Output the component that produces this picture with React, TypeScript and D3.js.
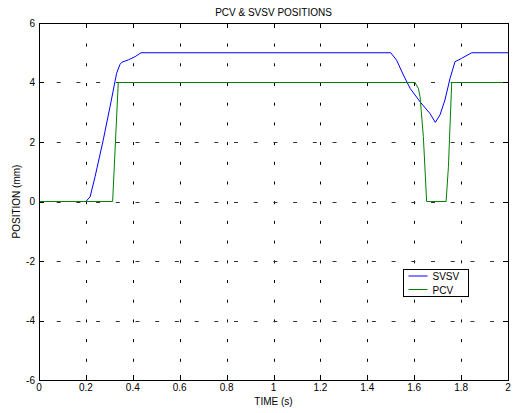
import React, { useEffect, useRef } from 'react';
import * as d3 from 'd3';

// SVSV position (mm)
const svsvTime = [0, 0.2, 0.218, 0.239, 0.274, 0.303, 0.324, 0.331, 0.345, 0.353, 0.381, 0.41, 0.435,
  1.5, 1.525, 1.554, 1.583, 1.625, 1.667, 1.69, 1.71, 1.731, 1.753, 1.774, 1.802, 1.845, 2.0];
const svsvPos = [0, 0, 0.16, 0.83, 2.07, 3.19, 4.03, 4.31, 4.6, 4.68, 4.76, 4.87, 5,
  5, 4.75, 4.25, 3.8, 3.35, 2.96, 2.66, 2.91, 3.41, 4.14, 4.7, 4.81, 5, 5];

// PCV position (mm)
const pcvTime = [0, 0.314, 0.338, 1.603, 1.618, 1.625, 1.639, 1.653, 1.736, 1.746, 1.76, 2.0];
const pcvPos = [0, 0, 4, 4, 3.8, 3.52, 2.18, 0, 0, 1.17, 4, 4];

const xTicks = [0, 0.2, 0.4, 0.6, 0.8, 1, 1.2, 1.4, 1.6, 1.8, 2];
const yTicks = [-6, -4, -2, 0, 2, 4, 6];

const seriesNames = ['SVSV', 'PCV'];
const seriesColors = ['#0000ff', '#008000'];

const App = () => {
  const ref = useRef<SVGSVGElement>(null);

  useEffect(() => {
    const width = 516;
    const height = 413;
    const margin = { top: 23, right: 8, bottom: 33, left: 39 };
    const innerWidth = width - margin.left - margin.right;
    const innerHeight = height - margin.top - margin.bottom;

    const svg = d3.select(ref.current);
    svg.selectAll('*').remove();
    svg.append('rect').attr('width', width).attr('height', height).attr('fill', '#fff');

    const g = svg.append('g').attr('transform', `translate(${margin.left}, ${margin.top})`);

    const xScale = d3.scaleLinear().domain([0, 2]).range([0, innerWidth]);
    const yScale = d3.scaleLinear().domain([-6, 6]).range([innerHeight, 0]);

    const font = 'Liberation Sans, Arial, sans-serif';

    // Grid (dotted)
    g.selectAll('.vgrid')
      .data(xTicks.slice(1, -1))
      .join('line')
      .attr('class', 'vgrid')
      .attr('x1', d => Math.round(xScale(d)) + 0.5)
      .attr('x2', d => Math.round(xScale(d)) + 0.5)
      .attr('y1', innerHeight)
      .attr('y2', 0)
      .attr('stroke', '#000')
      .attr('stroke-dasharray', '3,16.7')
      .attr('stroke-dashoffset', 1.5);

    g.selectAll('.hgrid')
      .data(yTicks.slice(1, -1))
      .join('line')
      .attr('class', 'hgrid')
      .attr('x1', 0)
      .attr('x2', innerWidth)
      .attr('y1', d => Math.round(yScale(d)) + 0.5)
      .attr('y2', d => Math.round(yScale(d)) + 0.5)
      .attr('stroke', '#333')
      .attr('stroke-dasharray', '4,15.7')
      .attr('stroke-dashoffset', 2);

    // Lines
    const lineGen = d3.line<[number, number]>()
      .x(d => xScale(d[0]))
      .y(d => yScale(d[1]));

    const series = [
      svsvTime.map((t, i) => [t, svsvPos[i]] as [number, number]),
      pcvTime.map((t, i) => [t, pcvPos[i]] as [number, number]),
    ];

    g.selectAll('.series')
      .data(series)
      .join('path')
      .attr('class', 'series')
      .attr('d', d => lineGen(d))
      .attr('fill', 'none')
      .attr('stroke', (d, i) => seriesColors[i])
      .attr('stroke-width', 1);

    // Ticks on all four sides, inward
    const tickLen = 5;
    xTicks.forEach(t => {
      const x = Math.round(xScale(t)) + 0.5;
      g.append('line').attr('x1', x).attr('x2', x).attr('y1', innerHeight).attr('y2', innerHeight - tickLen).attr('stroke', '#000');
      g.append('line').attr('x1', x).attr('x2', x).attr('y1', 0).attr('y2', tickLen).attr('stroke', '#000');
    });
    yTicks.forEach(t => {
      const y = Math.round(yScale(t)) + 0.5;
      g.append('line').attr('x1', 0).attr('x2', tickLen).attr('y1', y).attr('y2', y).attr('stroke', '#000');
      g.append('line').attr('x1', innerWidth).attr('x2', innerWidth - tickLen).attr('y1', y).attr('y2', y).attr('stroke', '#000');
    });

    // Box
    g.append('rect')
      .attr('x', 0.5)
      .attr('y', 0.5)
      .attr('width', innerWidth)
      .attr('height', innerHeight)
      .attr('fill', 'none')
      .attr('stroke', '#000');

    // Tick labels
    g.selectAll('.xlabel')
      .data(xTicks)
      .join('text')
      .attr('class', 'xlabel')
      .attr('x', d => xScale(d))
      .attr('y', innerHeight + 11)
      .attr('text-anchor', 'middle')
      .attr('font-family', font)
      .attr('font-size', 10)
      .text(d => String(d));

    g.selectAll('.ylabel')
      .data(yTicks)
      .join('text')
      .attr('class', 'ylabel')
      .attr('x', -4)
      .attr('y', d => yScale(d) + 3.5)
      .attr('text-anchor', 'end')
      .attr('font-family', font)
      .attr('font-size', 10)
      .text(d => String(d));

    // Titles
    svg.append('text')
      .attr('x', margin.left + innerWidth / 2)
      .attr('y', 16)
      .attr('text-anchor', 'middle')
      .attr('font-family', font)
      .attr('font-size', 10)
      .text('PCV & SVSV POSITIONS');

    svg.append('text')
      .attr('x', margin.left + innerWidth / 2)
      .attr('y', 405)
      .attr('text-anchor', 'middle')
      .attr('font-family', font)
      .attr('font-size', 10)
      .text('TIME (s)');

    svg.append('text')
      .attr('transform', `translate(20, ${margin.top + innerHeight / 2}) rotate(-90)`)
      .attr('text-anchor', 'middle')
      .attr('font-family', font)
      .attr('font-size', 10)
      .text('POSITION (mm)');

    // Legend
    const legend = svg.append('g').attr('transform', 'translate(403.5, 269.5)');
    legend.append('rect')
      .attr('width', 65)
      .attr('height', 27)
      .attr('fill', '#fff')
      .attr('stroke', '#000');
    const items = legend.selectAll('.legend-item')
      .data(seriesNames)
      .join('g')
      .attr('class', 'legend-item')
      .attr('transform', (d, i) => `translate(0, ${6.5 + i * 13.5})`);
    items.append('line')
      .attr('x1', 5)
      .attr('x2', 24)
      .attr('y1', 0)
      .attr('y2', 0)
      .attr('stroke', (d, i) => seriesColors[i]);
    items.append('text')
      .attr('x', 29)
      .attr('y', 4)
      .attr('font-family', font)
      .attr('font-size', 10)
      .text(d => d);
  }, []);

  return (
    <svg ref={ref} width={516} height={413} style={{ position: 'absolute', left: 0, top: 0 }} />
  );
};

export default App;
